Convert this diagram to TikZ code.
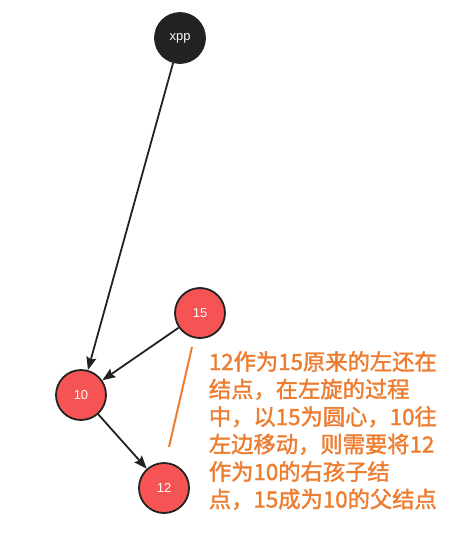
\documentclass[tikz,border=0pt]{standalone}
\usepackage{fontspec}
\setsansfont{Liberation Sans}
\newfontfamily\cjk[FakeBold=1.6]{Noto Sans CJK SC}
\usepackage{tikz}
\usetikzlibrary{arrows.meta}
\definecolor{nodered}{RGB}{246,84,84}
\definecolor{nodeblack}{RGB}{34,34,34}
\definecolor{noteorange}{RGB}{237,125,49}

\begin{document}
\begin{tikzpicture}[x=1pt,y=-1pt,line width=1.8pt]
		\tikzstyle{rbnode}=[draw=nodeblack,shape=circle,minimum size=50pt,inner sep=0pt,text=white,font=\sffamily\fontsize{13}{15}\selectfont]
		\tikzstyle{link}=[draw=nodeblack,-{Stealth[length=13pt,width=10pt,inset=2pt]}]
		\tikzstyle{note}=[text=noteorange,anchor=base west,inner sep=0pt,font=\cjk\fontsize{22.3}{26}\selectfont]

		\useasboundingbox[fill=white] (0,0) rectangle (457,540);

		\node[rbnode,fill=nodeblack](xpp) at (180,38){xpp};
		\node[rbnode,fill=nodered](n15) at (200,313){15};
		\node[rbnode,fill=nodered](n10) at (81,395){10};
		\node[rbnode,fill=nodered](n12) at (164,488){12};

		\draw[link] (xpp) -- (n10);
		\draw[link] (n15) -- (n10);
		\draw[link] (n10) -- (n12);

		\coordinate (mark1) at (192,347);
		\coordinate (mark2) at (169,447);
		\draw[noteorange,line width=2pt] (mark1) -- (mark2);

		\node[note](line1) at (208,370){12作为15原来的左还在};
		\node[note](line2) at (208,397.5){结点，在左旋的过程};
		\node[note](line3) at (208,425){中，以15为圆心，10往};
		\node[note](line4) at (208,452.5){左边移动，则需要将12};
		\node[note](line5) at (208,480){作为10的右孩子结};
		\node[note](line6) at (208,507.5){点，15成为10的父结点};
	\end{tikzpicture}
\end{document}
